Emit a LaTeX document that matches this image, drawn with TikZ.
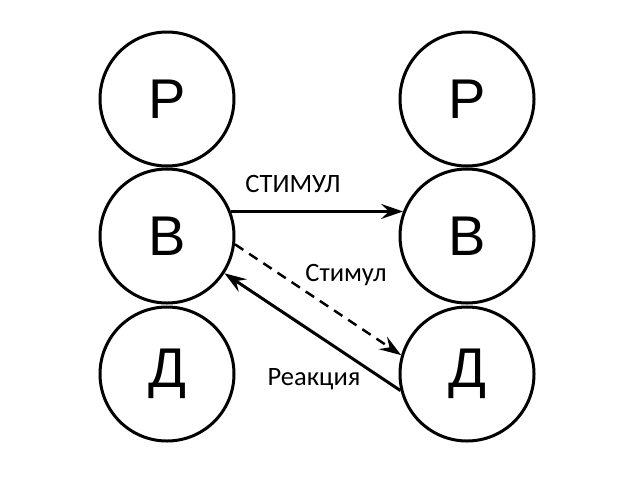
\documentclass[tikz,border=0pt]{standalone}
\usepackage{fontspec}
\setmainfont{Liberation Sans}
\newfontfamily\labfont{Carlito}
\usetikzlibrary{arrows.meta}
\begin{document}
\begin{tikzpicture}[x=1pt,y=-1pt,
  ball/.style={draw, circle, line width=3pt, minimum size=134pt, inner sep=0pt,
    font=\fontsize{56}{56}\selectfont},
  tip/.style={-{Stealth[length=22pt,width=15pt,inset=8pt]}},
  arr/.style={line width=3pt, tip},
  darr/.style={line width=2.4pt, dash pattern=on 10pt off 7pt, tip},
  lab/.style={font=\labfont\fontsize{26.5}{26.5}\selectfont, inner sep=0pt}]
\useasboundingbox[fill=white] (0,0) rectangle (620,480);
\node[ball] (lR) at (167,99) {Р};
\node[ball] (lB) at (167,236) {В};
\node[ball] (lD) at (167,374) {Д};
\node[ball] (rR) at (467,99) {Р};
\node[ball] (rB) at (467,236) {В};
\node[ball] (rD) at (467,374) {Д};
\draw[arr] (lB.21) -- (rB.159);
\draw[darr] (lB.-7) -- (rD.164);
\draw[arr] (rD.-166) -- (lB.-33);
\node[lab] (t1) at (293,184) {СТИМУЛ};
\node[lab] (t2) at (346,275) {Стимул};
\node[lab] (t3) at (314,379) {Реакция};
\end{tikzpicture}
\end{document}
